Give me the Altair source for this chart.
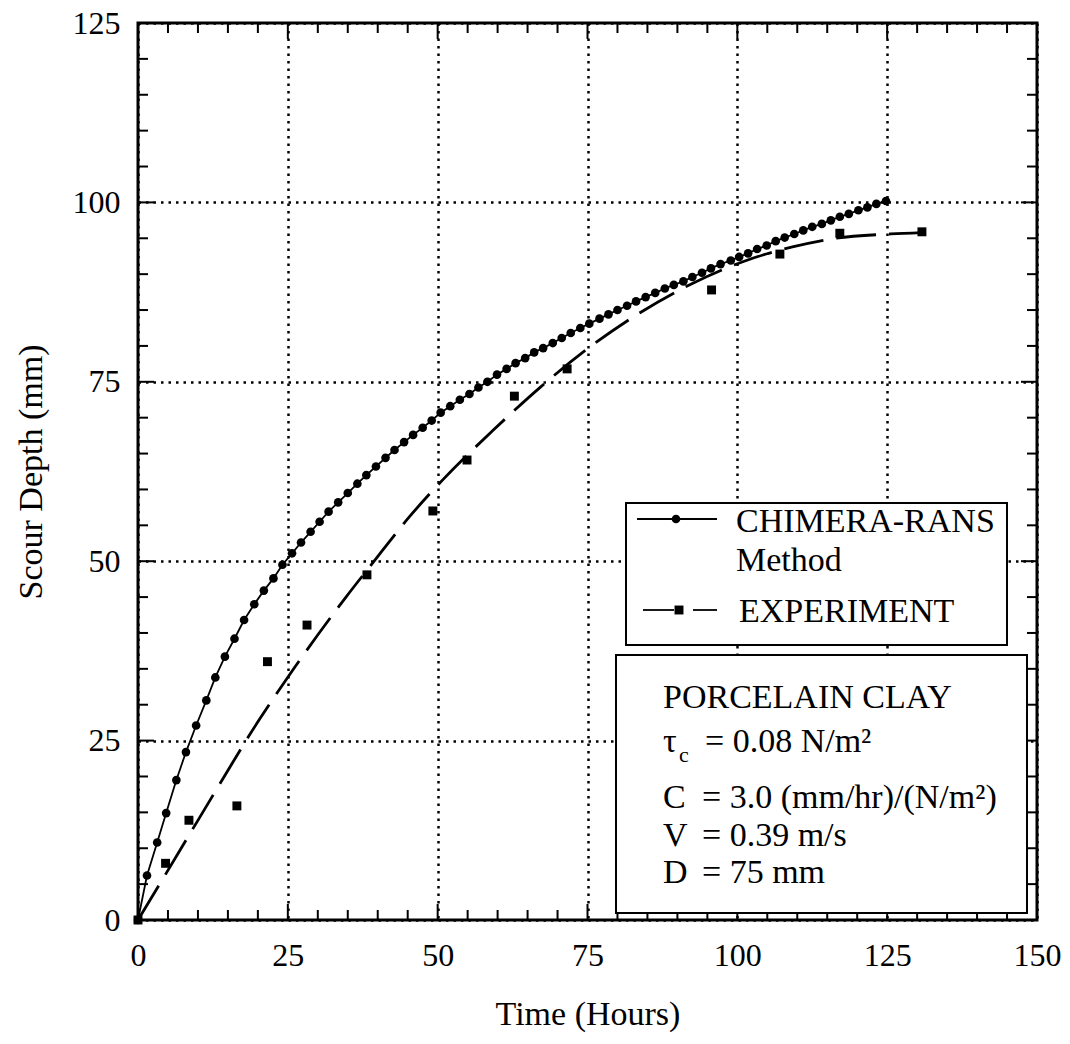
import altair as alt
import pandas as pd

# ---------------- data ----------------
rans_t = [0, 1.5, 3.2, 4.7, 6.4, 8.0, 9.7, 11.4, 12.9, 14.5, 16.1, 17.7, 19.4, 21.0, 22.6,
          24.1, 25.7, 27.2, 28.8, 30.3, 31.8, 33.4, 35.0, 36.6, 38.1, 39.7, 41.3, 42.8,
          44.4, 45.9, 47.5, 49.0, 50.5, 52.1, 53.7, 55.3, 56.8, 58.3, 59.9, 61.5, 63.0,
          64.6, 66.1, 67.6, 69.2, 70.7, 72.2, 73.8, 75.3, 77.0, 78.5, 80.0, 81.6, 83.1,
          84.7, 86.3, 87.9, 89.4, 91.0, 92.5, 94.1, 95.6, 97.2, 98.9, 100.3, 101.8,
          103.3, 104.9, 106.4, 107.9, 109.5, 111.0, 112.5, 114.1, 115.6, 117.1, 118.6,
          120.2, 121.7, 123.2, 124.8]
rans_d = [0, 6.2, 10.8, 14.9, 19.5, 23.4, 27.1, 30.6, 33.8, 36.7, 39.2, 41.8, 44.0, 45.9,
          47.6, 49.5, 51.1, 52.6, 54.1, 55.5, 56.9, 58.2, 59.5, 60.8, 62.0, 63.2, 64.4,
          65.5, 66.6, 67.6, 68.6, 69.6, 70.7, 71.6, 72.5, 73.3, 74.2, 75.0, 76.0, 76.8,
          77.6, 78.3, 79.1, 79.7, 80.4, 81.1, 81.8, 82.5, 83.1, 83.8, 84.4, 85.0, 85.6,
          86.2, 86.8, 87.4, 88.0, 88.5, 89.0, 89.6, 90.2, 90.8, 91.4, 91.9, 92.4, 92.9,
          93.5, 94.0, 94.6, 95.1, 95.6, 96.1, 96.6, 97.0, 97.5, 98.0, 98.4, 98.9, 99.3,
          99.8, 100.2]

exp_t = [0, 4.6, 8.5, 16.5, 21.6, 28.2, 38.2, 49.2, 54.9, 62.8, 71.6, 95.7, 107.1, 117.1, 130.8]
exp_d = [0, 7.9, 13.9, 15.9, 36.0, 41.1, 48.1, 57.0, 64.1, 73.0, 76.8, 87.8, 92.8, 95.7, 95.9]

fit_t = [0, 3.9, 10.3, 20.3, 25.8, 34.7, 39.2, 45.3, 50.8, 59.2, 67.2, 75.8, 83.9, 92.5,
         100.8, 109.2, 116.4, 125.6, 130.8]
fit_d = [0, 5.4, 14.3, 28.0, 34.8, 45.0, 49.8, 56.2, 61.3, 68.2, 74.3, 80.1, 84.7, 88.7,
         91.7, 93.8, 95.0, 95.6, 95.8]

x_labels = [0, 25, 50, 75, 100, 125, 150]
y_labels = [0, 25, 50, 75, 100, 125]
x_major_in = [25, 50, 75, 100, 125]
y_major_in = [25, 50, 75, 100]
x_minor = [5, 10, 15, 20, 30, 35, 40, 45, 55, 60, 65, 70, 80, 85, 90, 95,
           105, 110, 115, 120, 130, 135, 140, 145]
y_minor = [5, 10, 15, 20, 30, 35, 40, 45, 55, 60, 65, 70, 80, 85, 90, 95,
           105, 110, 115, 120]

# ---------------- layout ----------------
W, H = 899, 897
FONT = "Liberation Serif"
xs = alt.Scale(domain=[0, 150], nice=False, zero=False)
ys = alt.Scale(domain=[0, 125], nice=False, zero=False)

rans = pd.DataFrame({"t": rans_t, "d": rans_d})
exp = pd.DataFrame({"t": exp_t, "d": exp_d})
fit = pd.DataFrame({"t": fit_t, "d": fit_d})

xaxis = alt.Axis(values=x_labels, title="Time (Hours)", grid=True, gridColor="black",
                 gridDash=[2.5, 5], gridWidth=2.5, gridOpacity=1, ticks=False, domain=False,
                 labelFont=FONT, labelFontSize=32, labelColor="black", labelPadding=20,
                 labelFlush=False, labelOverlap=False,
                 titleFont=FONT, titleFontSize=34, titleFontWeight="normal",
                 titleColor="black", titlePadding=26)
yaxis = alt.Axis(values=y_labels, title="Scour Depth (mm)", grid=True, gridColor="black",
                 gridDash=[2.5, 5], gridWidth=2.5, gridOpacity=1, ticks=False, domain=False,
                 labelFont=FONT, labelFontSize=32, labelColor="black", labelPadding=18,
                 labelFlush=False, labelOverlap=False,
                 titleFont=FONT, titleFontSize=34, titleFontWeight="normal",
                 titleColor="black", titlePadding=24)

X = alt.X("t:Q", scale=xs, axis=xaxis)
Y = alt.Y("d:Q", scale=ys, axis=yaxis)

base_line = alt.Chart(rans).mark_line(color="black", strokeWidth=1.8).encode(x=X, y=Y)
rans_pts = alt.Chart(rans).mark_circle(color="black", size=75, opacity=1).encode(x=X, y=Y)
fit_line = alt.Chart(fit).mark_line(color="black", strokeWidth=2.8, strokeDash=[40, 13],
                                    interpolate="monotone").encode(x=X, y=Y)
exp_pts = alt.Chart(exp).mark_square(color="black", size=80, opacity=1).encode(x=X, y=Y)


def xticks(vals, length):
    df = pd.DataFrame({"t": vals})
    b = alt.Chart(df).mark_rule(color="black", strokeWidth=2)
    return (b.encode(x=X, y=alt.value(H), y2=alt.value(H - length))
            + b.encode(x=X, y=alt.value(0), y2=alt.value(length)))


def yticks(vals, length):
    df = pd.DataFrame({"d": vals})
    b = alt.Chart(df).mark_rule(color="black", strokeWidth=2)
    return (b.encode(y=Y, x=alt.value(0), x2=alt.value(length))
            + b.encode(y=Y, x=alt.value(W), x2=alt.value(W - length)))


one = pd.DataFrame({"a": [0]})


def box(x1, x2, y1, y2):
    return alt.Chart(one).mark_rect(fill="white", stroke="black", strokeWidth=2).encode(
        x=alt.value(x1), x2=alt.value(x2), y=alt.value(y1), y2=alt.value(y2))


def seg(x1, x2, y, w=2):
    return alt.Chart(one).mark_rule(color="black", strokeWidth=w).encode(
        x=alt.value(x1), x2=alt.value(x2), y=alt.value(y))


def txt(s, x, y, size=34):
    return alt.Chart(one).mark_text(align="left", baseline="alphabetic", font=FONT,
                                    fontSize=size, color="black").encode(
        x=alt.value(x), y=alt.value(y), text=alt.value(s))


legend = (
    box(488, 869, 480, 622)
    + seg(499, 579, 496, 1.8)
    + alt.Chart(one).mark_circle(color="black", size=75, opacity=1).encode(
        x=alt.value(538), y=alt.value(496))
    + txt("CHIMERA-RANS", 598, 509)
    + txt("Method", 598, 548)
    + seg(505, 536, 587, 1.8)
    + alt.Chart(one).mark_square(color="black", size=80, opacity=1).encode(
        x=alt.value(541), y=alt.value(587))
    + seg(555, 579, 587, 1.8)
    + txt("EXPERIMENT", 601, 599)
)

info = (
    box(478, 889, 632, 890)
    + txt("PORCELAIN CLAY", 525, 685)
    + txt("τ", 525, 729)
    + txt("c", 541, 739, 22)
    + txt("= 0.08 N/m²", 567, 729)
    + txt("C", 525, 785)
    + txt("= 3.0 (mm/hr)/(N/m²)", 564, 785)
    + txt("V", 525, 823)
    + txt("= 0.39 m/s", 564, 823)
    + txt("D", 525, 860)
    + txt("= 75 mm", 564, 860)
)

chart = alt.layer(
    base_line, fit_line, rans_pts, exp_pts,
    xticks(x_minor, 10), xticks(x_major_in, 16),
    yticks(y_minor, 10), yticks(y_major_in, 16),
    legend, info,
).properties(
    width=W, height=H,
    autosize=alt.AutoSizeParams(type="none"),
    padding={"left": 138, "top": 23, "right": 33, "bottom": 124},
    background="white",
).configure_view(stroke="black", strokeWidth=3)

chart.save("out.html", embed_options={"renderer": "svg", "actions": False})
